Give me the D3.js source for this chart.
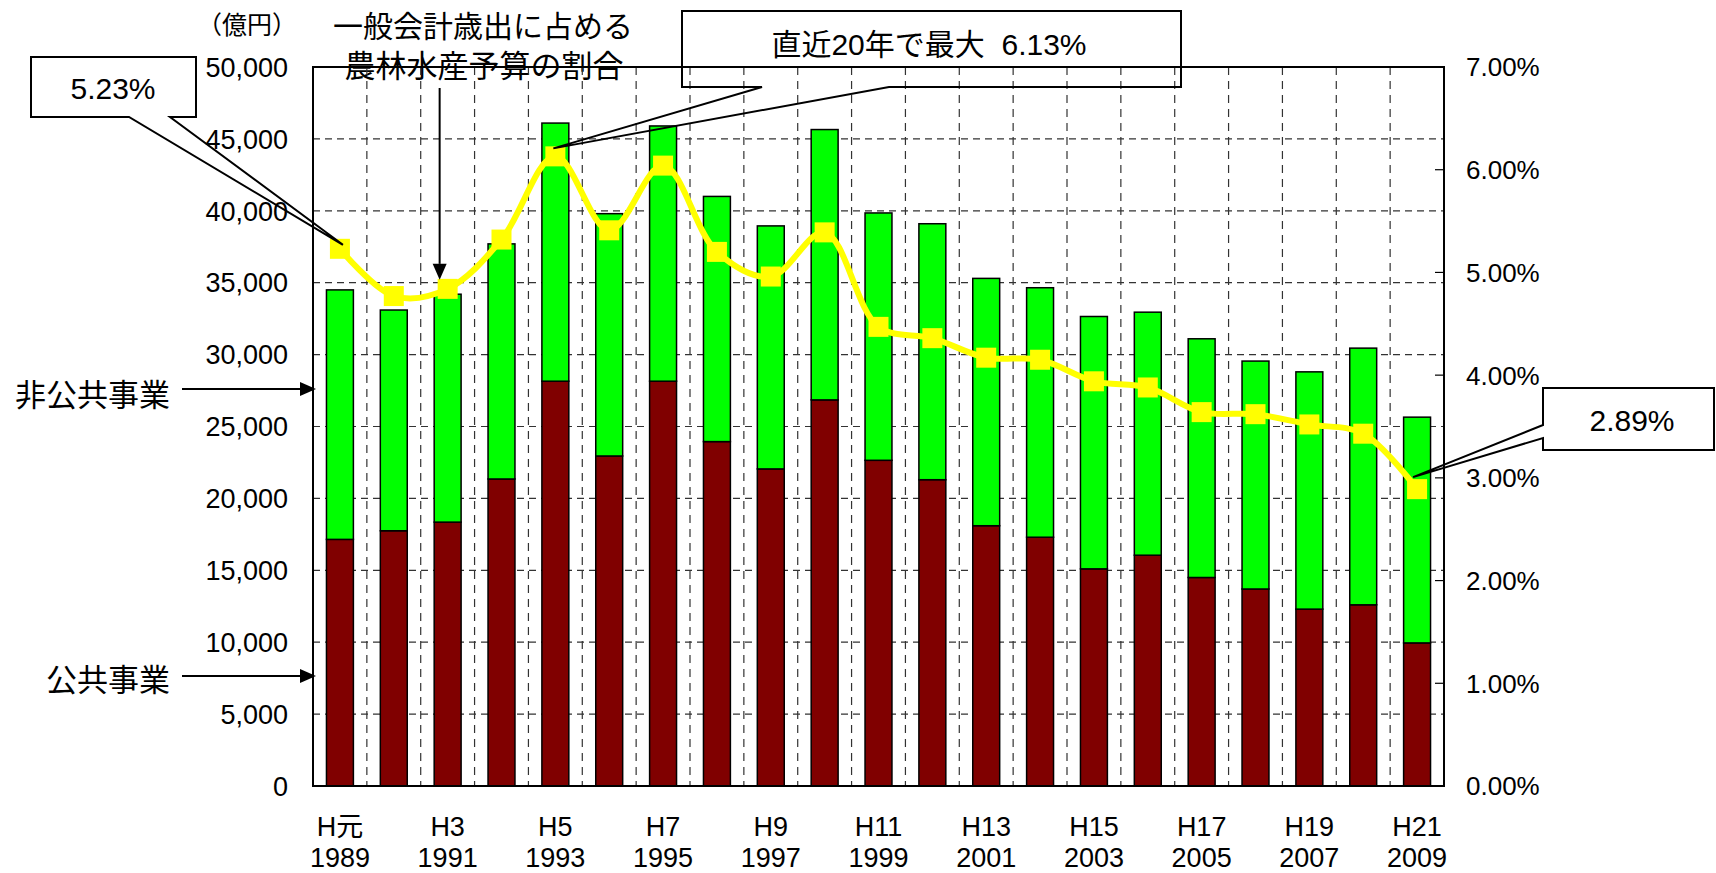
<!DOCTYPE html>
<meta charset="utf-8">
<html>
<head>
<title>農林水産予算</title>
<style>
  body { margin: 0; background: #fff; }
  text { font-family: "Liberation Sans", Arial, "Noto Sans CJK JP", sans-serif; fill: #000; }
  .jp { font-family: "Noto Sans CJK JP", sans-serif; }
</style>
</head>
<body>
<div id="chart"></div>

<script src="https://d3js.org/d3.v7.min.js"></script>
<script>

// data (億円 / 割合%)
var years = [1989, 1990, 1991, 1992, 1993, 1994, 1995, 1996, 1997, 1998, 1999,
             2000, 2001, 2002, 2003, 2004, 2005, 2006, 2007, 2008, 2009];
var eraLabels = ["H元", "H2", "H3", "H4", "H5", "H6", "H7", "H8", "H9", "H10", "H11",
                 "H12", "H13", "H14", "H15", "H16", "H17", "H18", "H19", "H20", "H21"];
var publicWorks = [17150, 17750, 18350, 21350, 28150, 22950, 28150, 23950, 22050, 26850, 22650,
                   21300, 18100, 17300, 15100, 16050, 14500, 13700, 12300, 12600, 9950];
var nonPublicWorks = [17350, 15350, 15850, 16350, 17950, 16850, 17750, 17050, 16900, 18800, 17200,
                      17800, 17200, 17350, 17550, 16900, 16600, 15850, 16500, 17850, 15700];
var sharePct = [5.23, 4.77, 4.84, 5.32, 6.13, 5.41, 6.04, 5.20, 4.96, 5.39, 4.47,
                4.36, 4.17, 4.15, 3.94, 3.88, 3.64, 3.62, 3.52, 3.43, 2.89];
var leftTicks = [0, 5000, 10000, 15000, 20000, 25000, 30000, 35000, 40000, 45000, 50000];
var rightTicks = [0, 1, 2, 3, 4, 5, 6, 7];

var W = 1716, H = 873;
var plot = {left: 313, right: 1444, top: 67, bottom: 786};

var svg = d3.select("#chart").append("svg")
    .attr("width", W)
    .attr("height", H);

var x = d3.scaleBand()
    .domain(years)
    .range([plot.left, plot.right])
    .paddingInner(0.5)
    .paddingOuter(0.25);
var y = d3.scaleLinear().domain([0, 50000]).range([plot.bottom, plot.top]);
var y2 = d3.scaleLinear().domain([0, 7]).range([plot.bottom, plot.top]);

function cx(i) { return x(years[i]) + x.bandwidth() / 2; }

// title texts (drawn first, the frame goes over them)
svg.append("text").attr("class", "jp")
    .attr("x", 247).attr("y", 23)
    .attr("text-anchor", "middle").attr("dominant-baseline", "central")
    .style("font-size", "25px")
    .text("（億円）");
svg.append("text").attr("class", "jp")
    .attr("x", 483).attr("y", 24)
    .attr("text-anchor", "middle").attr("dominant-baseline", "central")
    .style("font-size", "30px")
    .text("一般会計歳出に占める");
svg.append("text").attr("class", "jp")
    .attr("x", 484).attr("y", 63)
    .attr("text-anchor", "middle").attr("dominant-baseline", "central")
    .style("font-size", "31px")
    .text("農林水産予算の割合");

// grid
svg.append("g").selectAll("line")
    .data(leftTicks.slice(1, -1))
    .enter().append("line")
    .attr("x1", plot.left).attr("x2", plot.right)
    .attr("y1", function(d) { return y(d); })
    .attr("y2", function(d) { return y(d); })
    .attr("stroke", "#333").attr("stroke-width", 1.2)
    .attr("stroke-dasharray", "7,5");

svg.append("g").selectAll("line")
    .data(years.slice(1))
    .enter().append("line")
    .attr("x1", function(d) { return x(d) - x.step() * x.paddingInner() / 2; })
    .attr("x2", function(d) { return x(d) - x.step() * x.paddingInner() / 2; })
    .attr("y1", plot.top).attr("y2", plot.bottom)
    .attr("stroke", "#333").attr("stroke-width", 1.2)
    .attr("stroke-dasharray", "8,6");

// bars
svg.append("g").selectAll("rect")
    .data(years)
    .enter().append("rect")
    .attr("x", function(d) { return x(d); })
    .attr("width", x.bandwidth())
    .attr("y", function(d, i) { return y(publicWorks[i]); })
    .attr("height", function(d, i) { return y(0) - y(publicWorks[i]); })
    .attr("fill", "#800000").attr("stroke", "#000").attr("stroke-width", 1.5);

svg.append("g").selectAll("rect")
    .data(years)
    .enter().append("rect")
    .attr("x", function(d) { return x(d); })
    .attr("width", x.bandwidth())
    .attr("y", function(d, i) { return y(publicWorks[i] + nonPublicWorks[i]); })
    .attr("height", function(d, i) { return y(publicWorks[i]) - y(publicWorks[i] + nonPublicWorks[i]); })
    .attr("fill", "#00ff00").attr("stroke", "#000").attr("stroke-width", 1.5);

// frame
svg.append("rect")
    .attr("x", plot.left).attr("y", plot.top)
    .attr("width", plot.right - plot.left).attr("height", plot.bottom - plot.top)
    .attr("fill", "none").attr("stroke", "#000").attr("stroke-width", 2);

// axis ticks (inside)
svg.append("g").selectAll("line")
    .data(rightTicks)
    .enter().append("line")
    .attr("x1", plot.right - 9).attr("x2", plot.right)
    .attr("y1", function(d) { return y2(d); })
    .attr("y2", function(d) { return y2(d); })
    .attr("stroke", "#000").attr("stroke-width", 1.2);

// axis labels
svg.append("g").selectAll("text")
    .data(leftTicks)
    .enter().append("text")
    .attr("x", 288)
    .attr("y", function(d) { return y(d); })
    .attr("dy", "0.36em")
    .attr("text-anchor", "end")
    .style("font-size", "27px")
    .text(function(d) { return d3.format(",")(d); });

svg.append("g").selectAll("text")
    .data(rightTicks)
    .enter().append("text")
    .attr("x", 1466)
    .attr("y", function(d) { return y2(d); })
    .attr("dy", "0.36em")
    .style("font-size", "26px")
    .text(function(d) { return d.toFixed(2) + "%"; });

var xl = svg.append("g").selectAll("g")
    .data(years.filter(function(d, i) { return i % 2 == 0; }))
    .enter().append("g");
xl.append("text")
    .attr("x", function(d) { return x(d) + x.bandwidth() / 2; })
    .attr("y", 836)
    .attr("text-anchor", "middle")
    .style("font-size", "27px")
    .text(function(d) { return eraLabels[years.indexOf(d)]; });
xl.append("text")
    .attr("x", function(d) { return x(d) + x.bandwidth() / 2; })
    .attr("y", 867)
    .attr("text-anchor", "middle")
    .style("font-size", "27px")
    .text(function(d) { return d; });

// share line
svg.append("path")
    .datum(sharePct)
    .attr("fill", "none")
    .attr("stroke", "#ffff00")
    .attr("stroke-width", 6)
    .attr("d", d3.line()
        .x(function(d, i) { return cx(i); })
        .y(function(d) { return y2(d); })
        .curve(d3.curveCatmullRom));

svg.append("g").selectAll("rect")
    .data(sharePct)
    .enter().append("rect")
    .attr("x", function(d, i) { return cx(i) - 10; })
    .attr("y", function(d) { return y2(d) - 10; })
    .attr("width", 20).attr("height", 20)
    .attr("fill", "#ffff00");

// callouts
function callout(pts) {
    svg.append("path")
        .attr("d", "M" + pts.map(function(p) { return p.join(","); }).join("L") + "Z")
        .attr("fill", "none").attr("stroke", "#000").attr("stroke-width", 2);
}
var t0 = [cx(0) + 3, y2(sharePct[0]) - 4];
callout([[31, 57], [196, 57], [196, 117], [170, 117], t0, [129, 117], [31, 117]]);
svg.append("text").attr("x", 113).attr("y", 88).attr("dy", "0.36em")
    .attr("text-anchor", "middle").style("font-size", "30px").text("5.23%");

var t4 = [cx(4) - 2, y2(sharePct[4]) - 8];
callout([[682, 11], [1181, 11], [1181, 87], [889, 87], t4, [762, 87], [682, 87]]);
svg.append("text").attr("x", 929).attr("y", 44).attr("dy", "0.36em")
    .attr("text-anchor", "middle").style("font-size", "30px").text("直近20年で最大\u00a0\u00a06.13%");

var t20 = [cx(20) - 4, y2(sharePct[20]) - 12];
callout([[1543, 388], [1714, 388], [1714, 450], [1543, 450], [1543, 438], t20, [1543, 425]]);
svg.append("text").attr("x", 1632).attr("y", 420).attr("dy", "0.36em")
    .attr("text-anchor", "middle").style("font-size", "30px").text("2.89%");

// arrows
function arrow(x1, y1, x2, y2p) {
    var a = Math.atan2(y2p - y1, x2 - x1), len = 16, hw = 7;
    svg.append("line")
        .attr("x1", x1).attr("y1", y1)
        .attr("x2", x2 - len * Math.cos(a)).attr("y2", y2p - len * Math.sin(a))
        .attr("stroke", "#000").attr("stroke-width", 2);
    var bx = x2 - len * Math.cos(a), by = y2p - len * Math.sin(a);
    svg.append("path")
        .attr("d", "M" + x2 + "," + y2p +
            "L" + (bx - hw * Math.sin(a)) + "," + (by + hw * Math.cos(a)) +
            "L" + (bx + hw * Math.sin(a)) + "," + (by - hw * Math.cos(a)) + "Z")
        .attr("fill", "#000");
}
arrow(cx(2) - 8, 88, cx(2) - 8, y2(sharePct[2]) - 9);
arrow(182, y(27600), plot.left + 3, y(27600));
arrow(182, y(7650), plot.left + 3, y(7650));

svg.append("text").attr("class", "jp")
    .attr("x", 170).attr("y", y(27600) + 3)
    .attr("text-anchor", "end").attr("dominant-baseline", "central")
    .style("font-size", "31px")
    .text("非公共事業");
svg.append("text").attr("class", "jp")
    .attr("x", 170).attr("y", y(7650) + 2)
    .attr("text-anchor", "end").attr("dominant-baseline", "central")
    .style("font-size", "31px")
    .text("公共事業");

</script>
</body>
</html>
